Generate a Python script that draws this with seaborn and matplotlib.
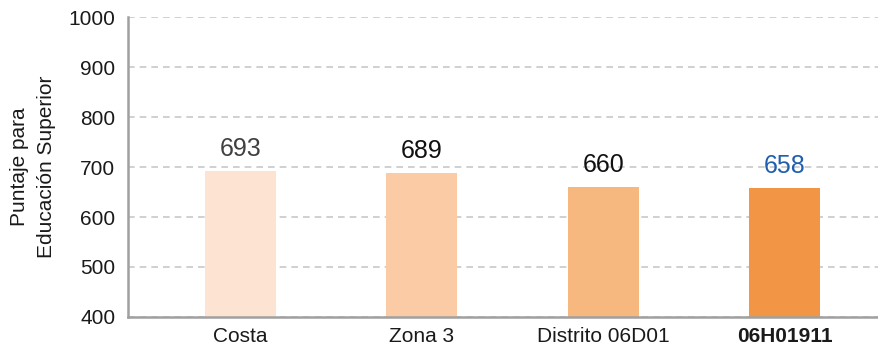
import matplotlib
matplotlib.use("Agg")
import matplotlib.pyplot as plt
import seaborn as sns
import pandas as pd

# Scores by level
categories = ["Costa", "Zona 3", "Distrito 06D01", "06H01911"]
scores = [693, 689, 660, 658]
bar_colors = ["#FDE3D1", "#FACBA5", "#F7B880", "#F29646"]
label_colors = ["#404040", "#111111", "#111111", "#1F5FAD"]
y_ticks = [400, 500, 600, 700, 800, 900, 1000]

sns.set_theme(style="white")
plt.rcParams["font.family"] = ["Liberation Sans", "DejaVu Sans"]

df = pd.DataFrame({"categoria": categories, "puntaje": scores})

fig = plt.figure(figsize=(8.79, 3.5), dpi=100)
ax = fig.add_axes([0.1456, 0.0943, 0.8544, 0.8571])

sns.barplot(data=df, x="categoria", y="puntaje", hue="categoria",
            palette=bar_colors, order=categories, hue_order=categories,
            width=0.39, legend=False, ax=ax, saturation=1, linewidth=0)

ax.set_ylim(400, 1000)
ax.set_xlim(-0.62, 3.52)
ax.set_yticks(y_ticks)
ax.set_yticklabels([str(t) for t in y_ticks])
ax.yaxis.grid(True, linestyle=(0, (4, 3)), color="#C8C8C8", linewidth=1.2)
ax.set_axisbelow(True)

for side in ["top", "right"]:
    ax.spines[side].set_visible(False)
for side in ["left", "bottom"]:
    ax.spines[side].set_color("#A0A0A0")
    ax.spines[side].set_linewidth(1.8)

ax.tick_params(axis="y", length=0, pad=9, labelsize=15, labelcolor="#1A1A1A")
ax.tick_params(axis="x", length=0, pad=7, labelsize=15, labelcolor="#1A1A1A")
for lbl in ax.get_xticklabels():
    if lbl.get_text() == "06H01911":
        lbl.set_fontweight("bold")

ax.set_xlabel("")
ax.set_ylabel("Puntaje para\nEducación Superior", fontsize=15,
              color="#1A1A1A", labelpad=9, linespacing=1.55)

for bars in ax.containers:
    for rect in bars:
        if rect.get_height() != rect.get_height():
            continue
        i = int(round(rect.get_x() + rect.get_width() / 2))
        ax.annotate(f"{scores[i]}",
                    xy=(rect.get_x() + rect.get_width() / 2, scores[i]),
                    xytext=(0, 7), textcoords="offset points",
                    ha="center", va="bottom", fontsize=18,
                    color=label_colors[i])

fig.savefig("out.png", dpi=100)
